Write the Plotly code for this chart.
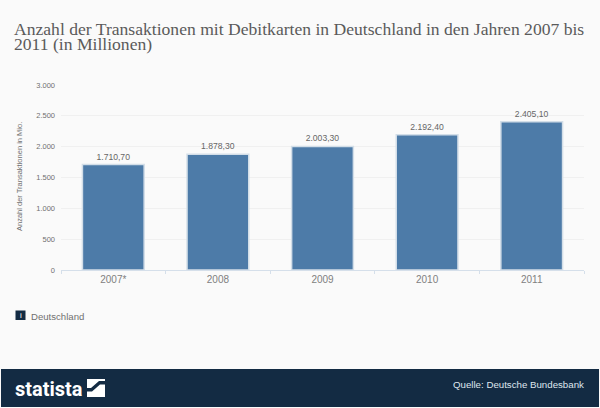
import plotly.graph_objects as go

categories = ["2007*", "2008", "2009", "2010", "2011"]
values = [1710.7, 1878.3, 2003.3, 2192.4, 2405.1]
value_labels = ["1.710,70", "1.878,30", "2.003,30", "2.192,40", "2.405,10"]
tick_values = [0, 500, 1000, 1500, 2000, 2500, 3000]
tick_labels = ["0", "500", "1.000", "1.500", "2.000", "2.500", "3.000"]

W, H = 600, 408
L, R, T, B = 61, 584, 85, 270

def px(x): return (x - L) / (R - L)
def py(y): return (B - y) / (B - T)

NAVY = "#132b43"

fig = go.Figure(go.Bar(
    x=categories, y=values, width=0.59,
    text=value_labels, textposition="outside", cliponaxis=False,
    textfont=dict(family="Arial, Liberation Sans", size=8.6, color="#666666"),
    marker=dict(color="#4d7ba8", line=dict(color="#d3dee8", width=1.5)),
))

shapes = [
    dict(type="rect", xref="paper", yref="paper", x0=px(1), x1=px(599), y0=py(407), y1=py(369),
         fillcolor=NAVY, line=dict(width=0), layer="below"),
    dict(type="rect", xref="paper", yref="paper", x0=px(87), x1=px(105), y0=py(397), y1=py(379),
         fillcolor="#ffffff", line=dict(width=0), layer="above"),
    dict(type="path", xref="paper", yref="paper",
         path=f"M {px(87)} {py(391.5)} L {px(92)} {py(391.5)} L {px(100)} {py(384.5)} L {px(105)} {py(384.5)} "
              f"L {px(105)} {py(381)} L {px(99)} {py(381)} L {px(91)} {py(388)} L {px(87)} {py(388)} Z",
         fillcolor=NAVY, line=dict(width=0), layer="above"),
    dict(type="rect", xref="paper", yref="paper", x0=px(15.5), x1=px(25.5), y0=py(320), y1=py(310.5),
         fillcolor=NAVY, line=dict(width=0), layer="above"),
]

def note(text, x, y, size, color, family="Arial, Liberation Sans", xanchor="left", **kw):
    font = dict(family=family, size=size, color=color)
    if "weight" in kw:
        font["weight"] = kw.pop("weight")
    return dict(text=text, xref="paper", yref="paper", x=px(x), y=py(y), xanchor=xanchor,
                yanchor="middle", showarrow=False, font=font, **kw)

annotations = [
    note("Anzahl der Transaktionen mit Debitkarten in Deutschland in den Jahren 2007 bis", 12, 28.5, 17.6, "#5a5a5a", "Liberation Serif"),
    note("2011 (in Millionen)", 12, 43.5, 17.6, "#5a5a5a", "Liberation Serif"),
    note("Anzahl der Transaktionen in Mio.", 19, 177, 7.5, "#707070", xanchor="center", textangle=-90),
    note("i", 20.5, 315, 8, "#ffffff", "Liberation Sans", xanchor="center"),
    note("Deutschland", 28.5, 316, 9.6, "#707070"),
    note("statista", 13, 388.5, 20, "#ffffff", "Roboto", weight="bold"),
    note("Quelle: Deutsche Bundesbank", 586, 384, 9.7, "#dfe6ee", xanchor="right"),
]

fig.update_layout(
    width=W, height=H, autosize=False, showlegend=False,
    paper_bgcolor="#fafafa", plot_bgcolor="#fafafa",
    margin=dict(l=L, r=W - R, t=T, b=H - B),
    shapes=shapes, annotations=annotations,
)
fig.update_xaxes(
    type="category", range=[-0.5, 4.5], showgrid=False, ticks="outside", ticklen=3,
    tickson="boundaries", tickcolor="#d5dfea", showline=True,
    linecolor="#d5dfea", linewidth=1,
    tickfont=dict(family="Arial, Liberation Sans", size=10, color="#808080"),
)
fig.update_yaxes(
    range=[0, 3000], tickmode="array", tickvals=tick_values, ticktext=tick_labels,
    gridcolor="#f0f0f0", gridwidth=1, zeroline=False,
    ticks="", ticklabelstandoff=5,
    tickfont=dict(family="Arial, Liberation Sans", size=7.5, color="#707070"),
)
fig.write_html("out.html", config=dict(displayModeBar=False),
               post_script="document.body.style.margin='0';document.documentElement.style.background='#fafafa';")
